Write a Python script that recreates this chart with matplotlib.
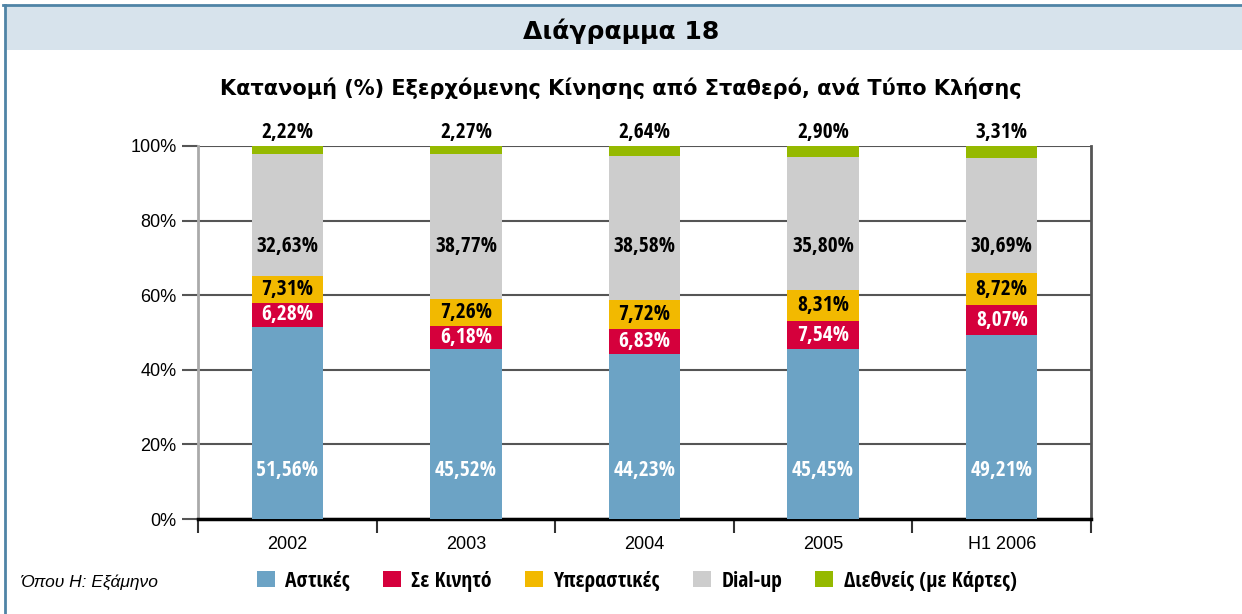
import matplotlib
matplotlib.use("Agg")
import matplotlib.pyplot as plt
from matplotlib.patches import Patch, Rectangle
from matplotlib.lines import Line2D
import numpy as np

plt.rcParams["font.family"] = ["Liberation Sans", "DejaVu Sans"]
BOLD = ["Open Sans Condensed", "DejaVu Sans"]

# -- data --
periods = ["2002", "2003", "2004", "2005", "H1 2006"]
series = ["Αστικές", "Σε Κινητό", "Υπεραστικές", "Dial-up", "Διεθνείς (με Κάρτες)"]
astikes = [51.56, 45.52, 44.23, 45.45, 49.21]
se_kinito = [6.28, 6.18, 6.83, 7.54, 8.07]
yperastikes = [7.31, 7.26, 7.72, 8.31, 8.72]
dialup = [32.63, 38.77, 38.58, 35.80, 30.69]
diethneis = [2.22, 2.27, 2.64, 2.90, 3.31]
colors = ["#6ca3c5", "#d5003c", "#f2b900", "#cdcdcd", "#95b900"]
yticks = [0, 20, 40, 60, 80, 100]

values = [astikes, se_kinito, yperastikes, dialup, diethneis]


def pct(v):
    return f"{v:.2f}%".replace(".", ",")


W, H = 1242, 614
fig = plt.figure(figsize=(W / 100, H / 100), dpi=100)

# -- frame and header band --
fig.patches.append(Rectangle((6 / W, 1 - 50 / H), 1, 44 / H, transform=fig.transFigure,
                             facecolor="#d7e3ec", edgecolor="none", zorder=0))
fig.add_artist(Line2D([3 / W, 1], [1 - 5 / H, 1 - 5 / H], transform=fig.transFigure,
                      color="#4f84a6", lw=2))
fig.add_artist(Line2D([5 / W, 5 / W], [0, 1 - 5 / H], transform=fig.transFigure,
                      color="#4f84a6", lw=2))

fig.text(0.5, 1 - 31 / H, "Διάγραμμα 18", ha="center", va="center",
         fontsize=18, fontweight="bold", family="DejaVu Sans")
fig.text(0.5, 1 - 88 / H, "Κατανομή (%) Εξερχόμενης Κίνησης από Σταθερό, ανά Τύπο Κλήσης",
         ha="center", va="center", fontsize=15, fontweight="bold", family="DejaVu Sans")

# -- axes --
ax = fig.add_axes([198 / W, 1 - 519 / H, (1091 - 198) / W, (519 - 146) / H])
x = np.arange(len(periods))
bottom = np.zeros(len(periods))
for name, vals, col in zip(series, values, colors):
    ax.bar(x, vals, 0.4, bottom=bottom, color=col, label=name, zorder=3)
    bottom += np.array(vals)

cum = np.cumsum(values, axis=0)
lab = dict(ha="center", va="center", fontsize=15.5, fontweight="bold", family=BOLD, zorder=4)
for i in range(len(periods)):
    ax.text(x[i], 13, pct(astikes[i]), color="white", **lab)
    ax.text(x[i], cum[0][i] + se_kinito[i] / 2, pct(se_kinito[i]), color="white", **lab)
    ax.text(x[i], cum[1][i] + yperastikes[i] / 2, pct(yperastikes[i]), color="black", **lab)
    ax.text(x[i], 73, pct(dialup[i]), color="black", **lab)
    ax.text(x[i], 103.6, pct(diethneis[i]), color="black", clip_on=False, **lab)

ax.set_xlim(-0.5, len(periods) - 0.5)
ax.set_ylim(0, 100)
ax.set_yticks(yticks)
ax.set_yticklabels([f"{t}%" for t in yticks], fontsize=13)
ax.yaxis.grid(True, color="#555555", lw=1.5, zorder=1)
ax.tick_params(axis="y", length=11.5, width=1.5, color="#555555", pad=4)

ax.set_xticks(x)
ax.set_xticklabels(periods, fontsize=13)
ax.set_xticks(np.arange(-0.5, len(periods)), minor=True)
ax.tick_params(axis="x", which="major", length=0, pad=12)
ax.tick_params(axis="x", which="minor", length=10, width=1.5, color="#333333")

ax.spines["top"].set_visible(False)
ax.spines["left"].set_color("#aaaaaa")
ax.spines["left"].set_linewidth(2)
ax.spines["right"].set_color("#555555")
ax.spines["right"].set_linewidth(2)
ax.spines["bottom"].set_color("black")
ax.spines["bottom"].set_linewidth(2.5)

# -- legend and note --
handles = [Patch(facecolor=c, edgecolor="none") for c in colors]
fig.legend(handles, series, loc="center left", bbox_to_anchor=(257 / W, 1 - 581 / H),
           ncol=5, frameon=False, prop={"family": BOLD, "size": 15.5, "weight": "bold"},
           borderpad=0, borderaxespad=0,
           handlelength=0.84, handleheight=0.74, handletextpad=0.47, columnspacing=1.55)
fig.text(20 / W, 1 - 582 / H, "Όπου Η: Εξάμηνο", ha="left", va="center",
         fontsize=12.5, style="italic")

fig.savefig("out.png", dpi=100)
